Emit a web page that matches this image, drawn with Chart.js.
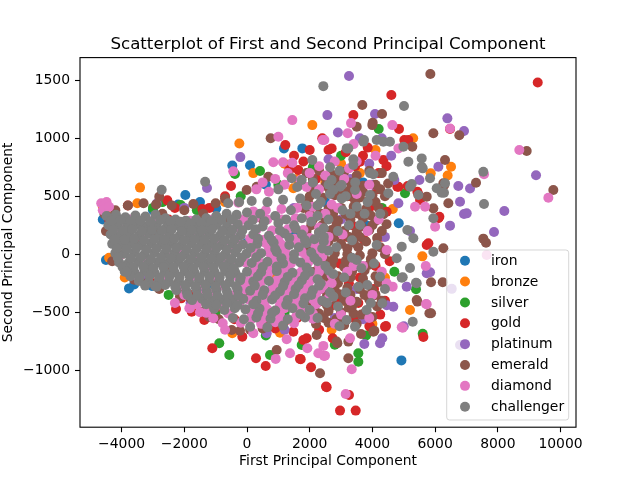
<!DOCTYPE html>
<html>
<head>
<meta charset="utf-8">
<script src="https://cdn.jsdelivr.net/npm/chart.js@4.4.1/dist/chart.umd.min.js"></script>
<style>
  html, body { margin: 0; padding: 0; background: #fff; }
  #wrap { width: 640px; height: 480px; }
</style>
</head>
<body>
<div id="wrap"><canvas id="scatterChart" width="640" height="480"></canvas></div>
<script>
// tiers (legend order) and their colours
const tiers = ['iron', 'bronze', 'silver', 'gold', 'platinum', 'emerald', 'diamond', 'challenger'];
const tierColors = ['#1f77b4', '#ff7f0e', '#2ca02c', '#d62728', '#9467bd', '#8c564b', '#e377c2', '#7f7f7f'];

// axis ticks
const xTicks = [-4000, -2000, 0, 2000, 4000, 6000, 8000, 10000];
const yTicks = [-1000, -500, 0, 500, 1000, 1500];

// points [PC1, PC2], per tier
const iron = [[-3764,-294],[-3030,-273],[-1967,511],[-469,765],[96,767],[1180,913],[1765,913],[4925,-915],[-979,396],
  [-4600,300],[-4500,-50],[-3600,-260],[-1200,-250],[0,100],[800,-300],[1500,200],[2500,450],[3200,-150],[3800,250],
  [-4100,150],[-2600,-100],[-3000,380],[-2200,430],[600,600],[-600,-400],[2200,-500],[3700,620],[-1500,450],[1000,-620],[4840,267]];

const bronze = [[-3413,575],[-245,956],[2084,1114],[1478,569],[5593,-18],[6508,755],[5860,698],[-469,-681],[1053,-676],[-2775,-256],
  [-4500,350],[-4400,-30],[-3500,440],[-2000,-350],[-700,450],[200,700],[800,-200],[1600,650],[2500,620],[3100,-400],
  [3600,700],[4400,-200],[4650,390],[5300,1000],[6400,680],[-1300,-480],[-3900,-200],[-4600,410],[2700,-650],[4000,-600],
  [5200,-480],[400,-550],[3000,780],[1200,780],[4100,900]];

const silver = [[-2115,425],[-383,692],[415,718],[-884,-767],[-565,-868],[734,-868],[1745,-782],[3551,-853],[3551,-926],[5604,-685],
  [5391,-302],[-4300,250],[-3800,-150],[-3000,400],[-1600,380],[-200,500],[1000,600],[2100,750],[3000,850],[4300,400],
  [4700,-150],[2500,-300],[1200,-500],[-1000,-500],[-2500,-350],[3800,-700],[2800,-780],[-2700,450],[600,-700],[4200,1080],[5040,526]];

const gold = [[9273,1481],[4604,1373],[3392,1200],[4849,1080],[6476,1080],[1223,942],[1350,727],[1637,727],[-510,589],[-2542,465],
  [-1426,390],[-2265,-472],[-1107,-810],[287,-897],[596,-963],[1691,-902],[2042,-974],[2520,-1141],[2967,-1348],[3467,-1348],
  [3254,-1213],[2541,-1147],[1713,-905],[-2051,-302],[-1764,-495],[-1362,-566],[-150,-710],[574,-566],[1478,-667],[1904,-724],
  [2733,-724],[4434,-618],[5625,-713],[5732,80],[2700,913],[5018,985],[5146,985],[4795,583],[5126,589],[5434,540],
  [5520,468],[4350,813],[5785,95],[6136,324],[4829,583],[5465,517],[4456,367],[6104,310],[3605,798],[3924,-624],
  [4402,-624],[1796,-739],[4297,152],[3902,-618],[1800,800],[2200,650],[2600,900],[3000,700],[3300,500],[2800,300],
  [3200,150],[3600,-200],[2500,-100],[2000,-300],[2900,-400],[3400,-550],[1600,-550],[2300,-650],[1200,-580],[900,-640],
  [3900,400],[4200,700],[4400,-400],[4100,-100],[3700,850],[2400,1000],[2000,900],[1500,850],[-4400,300],[-3500,-200],
  [-2500,300],[-1500,-400],[-3800,420],[-3000,-250],[-2300,400],[-1800,-350],[-900,-450],[-400,-560],[-1200,400],[-700,500],
  [-2000,-330],[-2100,-380],[-1750,-420],
  [3150,880],[3450,760],[3850,920],[4150,560],[4450,760],[3350,250],[3750,120],[4050,-300],[3250,-250],[2650,-450],
  [3550,-420],[4250,-520],[2350,220],[2950,-80],[4550,-60]];

const platinum = [[3254,1537],[2563,1200],[4083,1209],[6391,1172],[6922,1063],[9219,681],[8208,373],[7879,192],[6476,247],[6741,589],
  [7114,568],[6795,453],[6922,347],[7008,353],[6104,755],[-213,838],[-1276,572],[-2881,437],[5094,-279],[4667,-452],
  [3742,-773],[4243,-767],[4316,-724],[5838,-155],[628,-681],[6530,-298],[6795,-782],[4829,440],[5732,-164],[4456,-440],
  [-4550,400],[-3800,300],[-2500,100],[-1500,-300],[-500,200],[500,-400],[1500,400],[2200,-200],[3000,300],[3500,-300],
  [4000,600],[-3300,-180],[-2000,400],[-1800,-420],[2800,-550],[1200,-650],[5200,200],[4600,850],[3600,1000],[2900,1050],[5500,640],
  [3300,650],[3900,780],[4300,1000],[2600,820],[4700,640],[4400,150],[3700,-560],[5000,-620]];

const emerald = [[5848,1554],[3678,1287],[4307,1209],[3500,1100],[4010,1134],[5944,1043],[6772,1026],[8922,890],[9771,554],[7305,617],
  [6316,813],[6295,597],[7538,135],[7624,100],[6263,52],[5870,-241],[6243,-241],[5817,-509],[5434,-408],[5870,-509],
  [4062,-659],[2882,-767],[3232,-753],[3637,-687],[3232,-897],[2329,-1026],[947,-825],[2223,-696],[755,1000],[3997,1114],
  [5273,928],[5732,497],[6422,440],[6263,612],[5944,396],[5413,-394],[4030,-667],[2861,-753],
  [-4550,350],[-4425,324],[-4157,123],[-3786,-92],[-4300,-60],[-4500,200],[-4200,380],[-3800,420],[-3300,440],[-2900,430],
  [-2798,497],[-2400,420],[-2000,380],[-1713,434],[-1400,350],[-1000,440],[-700,480],[-10,554],[309,583],[680,669],
  [-3600,-220],[-3200,-250],[-2562,-178],[-2800,-300],[-2137,-365],[-1800,-380],[-1445,-495],[-1200,-540],[-900,-560],
  [-488,-653],[-223,-659],[100,-650],[500,-640],
  [-4000,0],[-3500,100],[-3000,200],[-2500,-100],[-2000,0],[-1500,150],[-1000,-200],[-500,50],[0,-350],[500,300],
  [1000,-100],[1500,-400],[-3600,300],[-2700,350],[-3100,-150],[-2200,-250],[-1300,-350],[-700,300],
  [1900,700],[2300,720],[2700,690],[3100,710],[3500,680],[3900,720],[4300,700],
  [1700,600],[2100,610],[2500,590],[2900,600],[3300,620],[3700,590],[4100,600],[4500,610],
  [2000,500],[2400,490],[2800,510],[3200,500],[3600,490],[4000,510],[4400,500],
  [1800,400],[2200,410],[2600,390],[3000,400],[3400,410],[3800,390],[4200,400],
  [2100,300],[2500,310],[2900,290],[3300,300],[3700,310],[4100,290],
  [1900,200],[2300,190],[2700,210],[3100,200],[3500,190],[3900,210],[4300,200],
  [2200,100],[2600,110],[3000,90],[3400,100],[3800,110],
  [2000,0],[2400,-10],[2800,10],[3200,0],[3600,-10],[4000,10],[4400,0],
  [2300,-100],[2700,-90],[3100,-110],[3500,-100],[3900,-90],
  [2100,-200],[2500,-210],[2900,-190],[3300,-200],[3700,-210],[4100,-190],
  [2400,-300],[2800,-310],[3200,-290],[3600,-300],[4000,-310],
  [2000,-400],[2300,-410],[2700,-390],[3100,-400],[3500,-410],[3900,-390],[4300,-400],
  [1900,-500],[2300,-510],[2600,-490],[3000,-500],[3400,-510],[3800,-490],
  [2200,-600],[2600,-590],[3100,-610],[3500,-600],
  [2100,650],[2500,660],[2900,650],[3300,560],[3700,540],[4100,450],[2000,350],[2400,250],[2800,150],[3200,50],
  [3600,150],[4000,250],[2500,-50],[2900,-250],[3300,-350],[3700,-260],[4100,-350],[2450,-550],[2850,-560],[3250,-460],
  [2150,550],[2650,545],[3050,555],[3450,460],[3850,455],[4250,560],
  [1950,450],[2350,350],[2750,355],[3150,345],[3550,350],[3950,335],[4350,345],
  [2050,250],[2850,245],[3250,150],[3650,240],[4150,140],[4450,260],
  [1950,50],[2350,45],[2750,-45],[3150,-55],[3550,60],[3950,-40],[4250,60],
  [2150,-150],[2550,-145],[3350,-150],[3750,-140],[4200,-240],
  [2150,-350],[2550,-355],[2950,-345],[3350,-450],[3750,-350],[4150,-450],
  [2150,-450],[2550,-440],[2950,-550],[3650,-520],[4000,-540]];

const diamond = [[-4650,440],[-4560,420],[-4480,450],[-4600,380],[-4400,410],
  [-4300,290],[-3700,300],[-3000,290],[-2300,280],[-1800,290],[-1100,300],[-450,300],[-100,300],[250,310],[650,300],[1100,300],[1550,310],[2000,330],[2500,350],
  [-4000,210],[-2000,205],[-1350,210],[-200,215],[300,210],[800,205],[1300,215],[1800,210],[2300,230],
  [-4200,130],[-3300,125],[-2600,130],[-1700,135],[-1000,125],[-350,130],[100,135],[550,125],[1000,130],[1500,135],[2000,140],[2600,150],
  [-2200,50],[-1200,55],[-600,45],[250,50],[700,55],[1200,45],[1700,50],[2200,60],
  [-4100,-30],[-3300,-35],[-2400,-25],[-1500,-30],[-800,-35],[-100,-30],[350,-25],[850,-35],[1350,-30],[1900,-25],[2400,-20],
  [-2000,-110],[-1200,-105],[-450,-110],[250,-115],[700,-105],[1250,-110],[1800,-115],[2300,-100],
  [-3500,-190],[-2600,-185],[-1800,-195],[-1100,-190],[-400,-185],[200,-195],[650,-190],[1100,-185],[1600,-195],[2100,-190],[2700,-180],
  [-2900,-270],[-2000,-275],[-1400,-265],[-750,-270],[-50,-275],[400,-265],[900,-270],[1400,-280],[1950,-265],[2450,-270],
  [-2000,-350],[-1450,-355],[-1100,-345],[-400,-350],[300,-355],[750,-345],[1150,-350],[1700,-355],[2200,-345],
  [-1600,-430],[-900,-435],[-250,-425],[550,-430],[1050,-440],[1550,-425],[2200,-430],
  [-1300,-505],[-600,-510],[150,-515],[550,-500],[1050,-520],[1600,-505],[2100,-510],
  [-200,-590],[450,-600],[900,-585],[1500,-595],
  [500,620],[900,650],[1300,700],[1700,640],[2000,700],[2300,760],[300,560],[700,540],[1200,600],[1900,580],[2500,680],
  [200,370],[600,380],[1100,390],[1600,400],[2100,410],
  [100,90],[600,95],[1100,85],[1600,100],[2150,90],
  [200,10],[700,15],[1250,5],[1750,20],[2300,10],
  [-50,-70],[400,-75],[900,-65],[1400,-80],[1950,-70],
  [200,-150],[700,-155],[1200,-145],[1700,-160],[2300,-150],
  [-50,-230],[450,-235],[950,-225],[1450,-240],[2000,-230],
  [-100,-310],[350,-315],[800,-305],[1300,-320],[1800,-310],[2350,-300],
  [50,-390],[550,-395],[1050,-385],[1550,-400],[2100,-390],
  [150,-470],[650,-475],[1200,-465],[1750,-480],
  [150,-555],[550,-550],[1050,-560],[1550,-545],[2100,-555],
  [1446,1157],[1000,1014],[2467,985],[2414,985],[3212,1043],[3318,1131],[4636,1114],[6476,1085],[8686,899],[9612,488],
  [7560,690],[840,793],[1148,793],[1446,790],[-437,715],[-277,445],[-1840,-466],[-1818,-466],[-1075,-552],[-775,-595],
  [915,-902],[1372,-853],[1266,-733],[1925,-810],[2488,-874],[2456,-877],[2435,-790],[3148,-1204],[3340,-991],[4935,-629],
  [4967,-633],[5710,-428],[5732,-431],[5701,-101],[4456,-250],[4647,-279],[4456,37],[5360,410],[5680,410],[6000,238],
  [4829,913],[3286,-724],[2275,-853],[7646,-6],[3500,800],[3900,600],[4200,300],[3700,-100],[3300,-400],[4000,-350],
  [2800,-600],[2900,400],[3100,650],[4100,850],[3400,950],[-2300,-420],[-1500,-500],[-700,-650],[200,-680],
  [2300,560],[2700,430],[3050,170],[3400,-100],[2600,-380],[3000,-520],[2200,-20],[2700,-250],[3500,520],[3850,200],
  [4300,-150],[3200,-150],[2500,100],[3900,-550],[2800,800],[3250,740]];

const challenger = [
  [-4480,330],[-4180,340],[-3880,320],[-3560,335],[-3240,325],[-2920,340],[-2600,310],[-2280,300],[-1950,290],[-1620,300],
  [-1300,310],[-980,330],[-650,350],[-330,340],[0,360],[420,350],[900,330],[1400,380],[1900,420],[2350,450],
  [-4420,250],[-4120,260],[-3820,245],[-3500,255],[-3200,240],[-2880,250],[-2560,235],[-2240,250],[-1920,240],[-1600,230],
  [-1280,245],[-960,255],[-640,240],[-300,260],[50,250],[500,240],[1000,270],[1500,250],[2050,280],[2600,300],
  [-4350,170],[-4050,160],[-3750,175],[-3430,165],[-3110,180],[-2790,165],[-2470,170],[-2150,160],[-1830,175],[-1510,165],
  [-1190,170],[-870,160],[-540,175],[-200,165],[200,170],[700,160],[1200,180],[1750,170],[2300,190],
  [-4300,90],[-4000,85],[-3690,95],[-3370,80],[-3050,95],[-2730,85],[-2410,90],[-2090,80],[-1770,95],[-1450,85],
  [-1130,90],[-800,80],[-470,95],[-130,85],[330,90],[850,100],[1350,80],[1900,95],[2450,110],
  [-4200,10],[-3900,5],[-3590,15],[-3270,0],[-2950,15],[-2630,5],[-2310,10],[-1990,0],[-1670,15],[-1350,5],
  [-1030,10],[-700,0],[-370,15],[-20,5],[450,10],[950,20],[1500,0],[2050,15],[2600,30],
  [-4080,-70],[-3780,-75],[-3470,-65],[-3150,-80],[-2830,-70],[-2510,-75],[-2190,-65],[-1870,-80],[-1550,-70],[-1230,-75],
  [-910,-65],[-580,-80],[-250,-70],[150,-75],[650,-65],[1150,-80],[1700,-70],[2250,-60],
  [-3900,-150],[-3590,-155],[-3270,-145],[-2950,-160],[-2630,-150],[-2310,-155],[-1990,-145],[-1670,-160],[-1350,-150],[-1030,-155],
  [-700,-145],[-370,-160],[0,-150],[450,-155],[950,-145],[1450,-160],[2000,-150],[2600,-140],
  [-3450,-230],[-3130,-240],[-2810,-225],[-2490,-235],[-2170,-230],[-1850,-240],[-1530,-225],[-1210,-235],[-890,-230],[-560,-240],
  [-220,-225],[200,-235],[700,-230],[1200,-240],[1750,-225],[2250,-215],
  [-2250,-310],[-1930,-320],[-1610,-305],[-1290,-315],[-970,-310],[-640,-320],[-300,-305],[100,-315],[550,-310],[1050,-320],
  [1550,-300],[2100,-310],[2650,-330],
  [-1750,-395],[-1430,-385],[-1110,-400],[-790,-390],[-460,-395],[-120,-385],[300,-400],[800,-390],[1300,-395],[1850,-380],[2400,-400],
  [-1050,-470],[-720,-480],[-390,-465],[-50,-475],[400,-470],[900,-485],[1450,-465],[2000,-480],
  [-450,-550],[-100,-560],[300,-545],[750,-555],[1300,-560],[1850,-545],
  [100,-625],[650,-630],[1150,-615],
  [-600,440],[-250,450],[150,460],[650,450],[1150,470],[1700,480],[2200,520],
  [1000,560],[1600,580],[2100,620],[2600,600],
  [-4330,290],[-4030,295],[-3720,285],[-3400,290],[-3080,280],[-2760,295],[-2440,285],[-2120,280],[-1800,265],[-1460,270],[-1140,285],[-810,295],[-490,300],
  [-4270,210],[-3970,205],[-3660,215],[-3350,200],[-3030,210],[-2710,205],[-2400,215],[-2080,200],[-1760,210],[-1440,205],[-1120,215],[-790,200],[-470,210],[-150,205],
  [-4230,130],[-3900,125],[-3600,135],[-3280,120],[-2960,130],[-2640,125],[-2320,135],[-2000,120],[-1680,130],[-1360,125],[-1040,135],[-720,120],[-390,130],
  [-4150,50],[-3840,45],[-3530,55],[-3210,40],[-2890,50],[-2570,45],[-2250,55],[-1930,40],[-1610,50],[-1290,45],[-970,55],[-640,40],[-310,50],
  [-4120,-30],[-3700,-35],[-3380,-25],[-3060,-40],[-2740,-30],[-2420,-35],[-2100,-25],[-1780,-40],[-1460,-30],[-1140,-35],[-820,-25],[-500,-40],[-170,-30],
  [-3970,-110],[-3630,-115],[-3310,-105],[-2990,-120],[-2670,-110],[-2350,-115],[-2030,-105],[-1710,-120],[-1390,-110],[-1070,-115],[-750,-105],[-420,-120],
  [-3720,-190],[-3430,-195],[-3110,-185],[-2790,-200],[-2470,-190],[-2150,-195],[-1830,-185],[-1510,-200],[-1190,-190],[-870,-195],[-540,-185],[-200,-200],
  [-3250,-270],[-2930,-275],[-2610,-265],[-2290,-280],[-1970,-270],[-1650,-275],[-1330,-265],[-1010,-280],[-680,-270],[-350,-275],
  [-1900,-350],[-1580,-355],[-1260,-345],[-940,-360],[-610,-350],[-280,-355],
  [-1300,-430],[-970,-435],[-640,-425],[-300,-440],
  [180,295],[560,285],[1250,300],[1750,310],[2250,330],
  [280,215],[1050,205],[1550,220],[2450,225],
  [350,135],[780,125],[1350,140],[2150,130],
  [120,55],[900,45],[1650,60],[2400,50],
  [300,-25],[1100,-35],[1500,-40],[2150,-30],
  [500,-110],[950,-105],[1900,-115],[2500,-100],
  [350,-190],[1300,-195],[1850,-185],
  [250,-270],[1150,-275],[1650,-265],[2300,-270],
  [500,-350],[900,-355],[1500,-345],[2050,-350],
  [200,-430],[1250,-435],[1800,-425],
  [350,-510],[800,-505],[1700,-515],
  [2250,420],[2650,520],[3050,380],[3450,620],[3850,450],[4250,350],[2450,150],[2850,60],[3250,250],[3650,-120],
  [4050,-80],[2350,-250],[2750,-170],[3150,-330],[3550,-280],[3950,-420],[2550,-420],[2950,-620],[2250,-550],[3350,120],
  [3750,350],[4400,-300],[2650,750],[3150,500],[2950,720],
  [-2721,557],[-1335,625],[2435,1450],[5008,1278],[3732,985],[3711,970],[4137,985],[4350,970],[4560,970],[4989,928],
  [3180,913],[3232,913],[3392,819],[3392,770],[3924,700],[4030,690],[2084,813],[2700,640],[2967,583],[3020,482],
  [2753,554],[3020,597],[3445,554],[1425,655],[1745,640],[4667,669],[5147,798],[5573,827],[5573,755],[5605,741],
  [5254,606],[5200,583],[5465,511],[5838,655],[6316,612],[6051,569],[6284,531],[6210,531],[7538,712],[7560,434],
  [5944,310],[5944,22],[5114,209],[5306,138],[4935,66],[4775,-34],[5200,-118],[5413,-250],[5391,-245],[4967,-198],
  [4935,-202],[4507,526],[3924,511],[3500,410],[3605,253],[4137,80],[4243,-193],[3838,-265],[4316,-422],[3818,-480],
  [3445,-624],[3180,-566],[2753,-365],[3500,-49],[3350,-30],[1850,123],[5286,-581],[-2881,-279],[-3838,-150],[2900,200],
  [3100,-200],[3300,350],[2900,-450]];

const tierPoints = [iron, bronze, silver, gold, platinum, emerald, diamond, challenger];

const chartTitle = 'Scatterplot of First and Second Principal Component';
const xLabel = 'First Principal Component';
const yLabel = 'Second Principal Component';

const FONT = '"DejaVu Sans", "Liberation Sans", sans-serif';

function fmtTick(v) {
  return String(v).replace('-', '\u2212');
}

// frame, title and legend drawn like matplotlib's
const framePlugin = {
  id: 'framePlugin',
  afterDraw(chart) {
    const ctx = chart.ctx;
    const a = chart.chartArea;
    ctx.save();
    ctx.strokeStyle = '#000';
    ctx.lineWidth = 1.1;
    ctx.strokeRect(a.left, a.top, a.right - a.left, a.bottom - a.top);

    ctx.fillStyle = '#000';
    ctx.font = '16.67px ' + FONT;
    ctx.textAlign = 'center';
    ctx.textBaseline = 'alphabetic';
    ctx.fillText(chartTitle, (a.left + a.right) / 2, a.top - 8.3);

    // legend box, lower right inside the axes
    const w = 122, h = 170;
    const bx = a.right - 7.3 - w;
    const by = a.bottom - 7.2 - h;
    ctx.beginPath();
    ctx.roundRect(bx, by, w, h, 2.8);
    ctx.fillStyle = 'rgba(255,255,255,0.8)';
    ctx.fill();
    ctx.strokeStyle = 'rgba(204,204,204,0.8)';
    ctx.lineWidth = 1;
    ctx.stroke();

    ctx.font = '13.9px ' + FONT;
    ctx.textAlign = 'left';
    ctx.textBaseline = 'middle';
    tiers.forEach((t, i) => {
      const cy = by + 10.7 + i * 20.86;
      ctx.beginPath();
      ctx.arc(bx + 18.3, cy, 5, 0, Math.PI * 2);
      ctx.fillStyle = tierColors[i];
      ctx.fill();
      ctx.fillStyle = '#000';
      ctx.fillText(t, bx + 44.3, cy + 0.5);
    });
    ctx.restore();
  }
};

const datasets = tiers.map((t, i) => ({
  label: t,
  data: tierPoints[i].map(p => ({ x: p[0], y: p[1] })),
  backgroundColor: tierColors[i],
  borderColor: tierColors[i],
  pointRadius: 5,
  pointHoverRadius: 5,
  pointBorderWidth: 0,
  order: tiers.length - 1 - i // later tiers drawn on top
}));

const tickFont = { family: FONT, size: 13.9 };

new Chart(document.getElementById('scatterChart').getContext('2d'), {
  type: 'scatter',
  data: { datasets: datasets },
  options: {
    responsive: false,
    animation: false,
    events: [],
    layout: { padding: { left: 0, right: 64, top: 57.6, bottom: 0 } },
    plugins: {
      legend: { display: false },
      title: { display: false },
      tooltip: { enabled: false }
    },
    scales: {
      x: {
        type: 'linear',
        min: -5327,
        max: 10494,
        afterBuildTicks: s => { s.ticks = xTicks.map(v => ({ value: v })); },
        afterFit: s => { s.height = 52.8; },
        border: { display: false },
        grid: { drawOnChartArea: false, drawTicks: true, tickLength: 5, tickColor: '#000', tickWidth: 1.1 },
        ticks: { color: '#000', font: tickFont, padding: 4, maxRotation: 0, autoSkip: false, callback: v => fmtTick(v) },
        title: { display: true, text: xLabel, color: '#000', font: tickFont, padding: { top: 0, bottom: 10 } }
      },
      y: {
        type: 'linear',
        min: -1491,
        max: 1696,
        afterBuildTicks: s => { s.ticks = yTicks.map(v => ({ value: v })); },
        afterFit: s => { s.width = 80; },
        border: { display: false },
        grid: { drawOnChartArea: false, drawTicks: true, tickLength: 5, tickColor: '#000', tickWidth: 1.1 },
        ticks: { color: '#000', font: tickFont, padding: 5, autoSkip: false, callback: v => fmtTick(v) },
        title: { display: true, text: yLabel, color: '#000', font: tickFont, padding: { top: 0, bottom: 0 } }
      }
    }
  },
  plugins: [framePlugin]
});
</script>
</body>
</html>
